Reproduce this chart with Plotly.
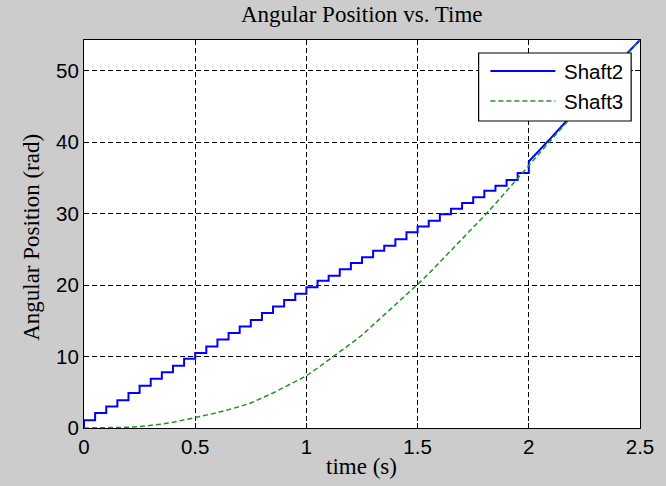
import plotly.graph_objects as go

# ---- data -------------------------------------------------------------
# Shaft2: held position after each 0.05 s sample (stepped motion)
step_dt = 0.05
shaft2_levels = [1.1, 2.1, 3.0, 3.9, 4.9, 5.9, 6.9, 7.8, 8.7, 9.7,
                 10.5, 11.4, 12.4, 13.3, 14.2, 15.1, 16.1, 17.0, 17.9, 18.8,
                 19.7, 20.6, 21.3, 22.2, 23.1, 23.9, 24.8, 25.5, 26.4, 27.4,
                 28.2, 29.0, 29.9, 30.7, 31.5, 32.3, 33.2, 33.9, 34.7, 35.7]
shaft2_step_times = [round(k * step_dt, 2) for k in range(len(shaft2_levels))]

# Shaft2 once locked to Shaft3 (t >= 2.0 s)
shaft2_locked_t = [2.0, 2.05, 2.1, 2.15, 2.2, 2.25, 2.3, 2.35, 2.4, 2.45, 2.5]
shaft2_locked = [37.3, 38.9, 40.6, 42.3, 44.0, 45.7, 47.5, 49.2, 50.9, 52.7, 54.3]

# Shaft3: smooth spin-up
shaft3_t = [round(k * step_dt, 2) for k in range(51)]
shaft3 = [0.0, 0.0, 0.02, 0.05, 0.1, 0.2, 0.35, 0.55, 0.8, 1.1,
          1.45, 1.8, 2.15, 2.55, 3.0, 3.5, 4.15, 4.9, 5.7, 6.5,
          7.3, 8.4, 9.5, 10.6, 11.8, 13.0, 14.4, 15.8, 17.2, 18.6,
          20.1, 21.6, 23.2, 24.8, 26.4, 28.0, 29.7, 31.4, 33.2, 35.0,
          36.8, 38.55, 40.3, 42.05, 43.8, 45.55, 47.3, 49.05, 50.8, 52.55,
          54.3]

x_ticks = [0, 0.5, 1, 1.5, 2, 2.5]
x_tick_text = ["0", "0.5", "1", "1.5", "2", "2.5"]
y_ticks = [0, 10, 20, 30, 40, 50]
y_tick_text = ["0", "10", "20", "30", "40", "50"]
series_names = ["Shaft2", "Shaft3"]

# ---- styling ----------------------------------------------------------
BLUE = "#0000ff"
GREEN = "#1e961e"
SERIF = "Liberation Serif, Times New Roman, serif"
SANS = "Liberation Sans, Arial, sans-serif"
GREEN_DASH = "5px,3px"

# plot-area geometry in pixels (for converting legend box positions)
W, H = 666, 486
L, R, T, B = 84, 17, 40, 58
PW, PH = W - L - R, H - T - B


def px_x(px):
    return (px - L) / PW


def px_y(py):
    return (H - B - py) / PH


fig = go.Figure()

# Shaft2 stepped section (starts from rest at 0)
fig.add_trace(go.Scatter(
    x=[0.0] + shaft2_step_times + [shaft2_locked_t[0]],
    y=[0.0] + shaft2_levels + [shaft2_locked[0]],
    mode="lines", line=dict(color=BLUE, width=2, shape="hv"),
    name=series_names[0], showlegend=False, hoverinfo="skip"))
# Shaft2 locked section
fig.add_trace(go.Scatter(
    x=shaft2_locked_t, y=shaft2_locked,
    mode="lines", line=dict(color=BLUE, width=2),
    name=series_names[0], showlegend=False, hoverinfo="skip"))
# Shaft3
fig.add_trace(go.Scatter(
    x=shaft3_t, y=shaft3,
    mode="lines", line=dict(color=GREEN, width=1.5, dash=GREEN_DASH),
    name=series_names[1], showlegend=False, hoverinfo="skip"))

axis_common = dict(
    ticks="inside", ticklen=5, tickcolor="black", tickwidth=1,
    showline=True, linecolor="black", linewidth=1.2, mirror="ticks",
    showgrid=True, gridcolor="black", gridwidth=1.2, griddash="5px,3px",
    zeroline=False, tickfont=dict(family=SANS, size=20.5, color="black"),
)

fig.update_xaxes(range=[0, 2.5], tickmode="array", tickvals=x_ticks,
                 ticktext=x_tick_text, **axis_common)
fig.update_yaxes(range=[0, 54.3], tickmode="array", tickvals=y_ticks,
                 ticktext=y_tick_text, **axis_common)

# legend box drawn by hand so the line samples have the right length
lx0, lx1, ly0, ly1 = 485, 640, 53, 121
row_y = [71, 101]
shapes = [
    dict(type="rect", xref="paper", yref="paper", layer="above",
         x0=px_x(lx0), x1=px_x(lx1), y0=px_y(ly1), y1=px_y(ly0),
         line=dict(color="black", width=1.2), fillcolor="white"),
    dict(type="line", xref="paper", yref="paper", layer="above",
         x0=px_x(497), x1=px_x(563), y0=px_y(row_y[0]), y1=px_y(row_y[0]),
         line=dict(color=BLUE, width=2)),
    dict(type="line", xref="paper", yref="paper", layer="above",
         x0=px_x(497), x1=px_x(563), y0=px_y(row_y[1]), y1=px_y(row_y[1]),
         line=dict(color=GREEN, width=1.5, dash=GREEN_DASH)),
]

annotations = [
    dict(text=series_names[0], xref="paper", yref="paper",
         x=px_x(570), y=px_y(row_y[0]), xanchor="left", yanchor="middle",
         showarrow=False, font=dict(family=SANS, size=20.5, color="black")),
    dict(text=series_names[1], xref="paper", yref="paper",
         x=px_x(570), y=px_y(row_y[1]), xanchor="left", yanchor="middle",
         showarrow=False, font=dict(family=SANS, size=20.5, color="black")),
    dict(text="time (s)", xref="paper", yref="paper",
         x=px_x(366), y=px_y(466), xanchor="center", yanchor="middle",
         showarrow=False, font=dict(family=SERIF, size=23, color="black")),
    dict(text="Angular Position (rad)", xref="paper", yref="paper",
         x=px_x(30), y=px_y(237), xanchor="center", yanchor="middle",
         textangle=-90, showarrow=False,
         font=dict(family=SERIF, size=23, color="black")),
    dict(text="Angular Position vs. Time", xref="paper", yref="paper",
         x=px_x(366), y=px_y(14), xanchor="center", yanchor="middle",
         showarrow=False, font=dict(family=SERIF, size=23, color="black")),
]

fig.update_layout(
    width=W, height=H,
    margin=dict(l=L, r=R, t=T, b=B, pad=0),
    paper_bgcolor="#cccccc", plot_bgcolor="white",
    showlegend=False, shapes=shapes, annotations=annotations,
)

fig.write_html("out.html")
